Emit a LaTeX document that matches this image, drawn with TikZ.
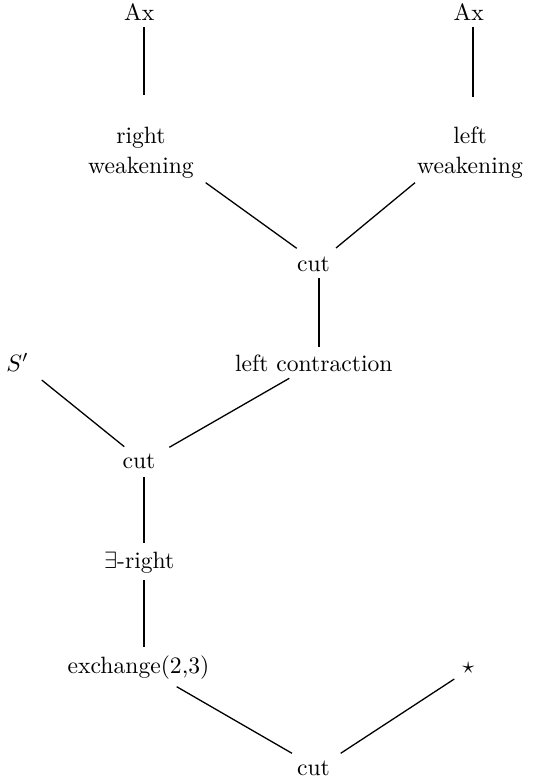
\documentclass[tikz,border=0pt]{standalone}
\usetikzlibrary{calc}
\begin{document}
\begin{tikzpicture}[x=0.4237pt,y=-0.4237pt,
  lbl/.style={inner sep=0pt,anchor=base},
  lbl2/.style={inner sep=0pt,anchor=center,align=center},
  vline/.style={line width=0.85pt},
  dline/.style={line width=0.55pt}]
\useasboundingbox (0,0) rectangle (538,782);
\node[lbl] (ax1) at (139.3,20.7) {Ax};
\node[lbl] (ax2) at (468.7,20.7) {Ax};
\node[lbl2] (rw) at (141,153) {right\\[0.7pt]weakening};
\node[lbl2] (lw) at (470,153) {left\\[0.7pt]weakening};
\node[lbl] (cut1) at (313.5,271) {cut};
\node[lbl] (lc) at (313.8,371) {left contraction};
\node[lbl] (sp) at (17.5,371) {$S'$};
\node[lbl] (cut2) at (139,468.3) {cut};
\node[lbl] (ex) at (139.2,568.3) {$\exists$-right};
\node[lbl] (xc) at (138.5,673.3) {exchange(2,3)};
\node[lbl] (star) at (468.3,673.6) {$\star$};
\node[lbl] (cut3) at (313.5,775) {cut};
\draw[vline] ($(ax1.base)+(4.4,6.6)$) -- ($(rw.center)+(2.7,-58)$);
\draw[vline] ($(ax2.base)+(4,6.6)$) -- ($(lw.center)+(2.7,-56.3)$);
\draw[dline] ($(rw.center)+(64.7,29.7)$) -- ($(cut1.base)+(-16.8,-22.7)$);
\draw[dline] ($(lw.center)+(-55,29.7)$) -- ($(cut1.base)+(22.5,-23)$);
\draw[vline] ($(cut1.base)+(5.2,7.3)$) -- ($(lc.base)+(4.9,-24.3)$);
\draw[dline] ($(sp.base)+(24.2,9)$) -- ($(cut2.base)+(-14.7,-21.6)$);
\draw[dline] ($(lc.base)+(-24.5,7.3)$) -- ($(cut2.base)+(30.3,-21)$);
\draw[vline] ($(cut2.base)+(4.7,8.4)$) -- ($(ex.base)+(4.5,-25)$);
\draw[vline] ($(ex.base)+(4.5,11.7)$) -- ($(xc.base)+(5.2,-26)$);
\draw[dline] ($(xc.base)+(38.2,13.4)$) -- ($(cut3.base)+(-21.5,-21.7)$);
\draw[dline] ($(star.base)+(-14,5.4)$) -- ($(cut3.base)+(27.2,-21.7)$);
\end{tikzpicture}
\end{document}
